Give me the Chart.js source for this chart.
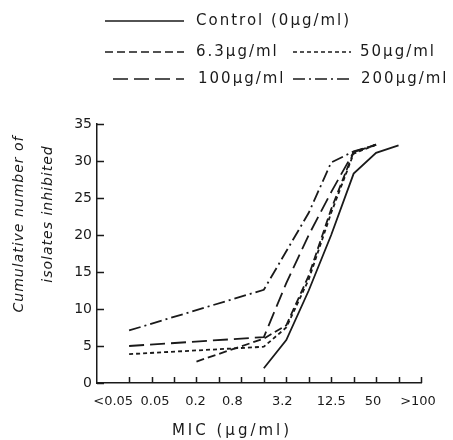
<!DOCTYPE html>
<html lang="en">
<head>
    <meta charset="UTF-8">
    <script src="https://cdn.jsdelivr.net/npm/chart.js@4.4.1/dist/chart.umd.min.js"></script>
    <title>MIC</title>
    <style>
        body { margin: 0; background: #fff; }
        #wrap { width: 453px; height: 440px; }
    </style>
</head>
<body>
    <div id="wrap"><canvas id="myChart"></canvas></div>
    <script>

        // MIC categories (doubling dilutions) and the labels shown under the axis
        var mic = ['<0.05', '0.05', '0.1', '0.2', '0.4', '0.8', '1.6', '3.2', '6.3', '12.5', '25', '50', '100', '>100'];
        var micLabels = ['<0.05', '0.05', '', '0.2', '', '0.8', '', '3.2', '', '12.5', '', '50', '', '>100'];
        var yTicks = [0, 5, 10, 15, 20, 25, 30, 35];

        // cumulative number of isolates inhibited, one value per MIC category
        var control = [null, null, null, null, null, null, 2, 5.8, 12.5, 20, 28.3, 31.1, 32.1, null];
        var conc63  = [null, null, null, 2.9, null, null, 6, 7.8, 14.5, 23.5, 31.2, 32.2, null, null];
        var conc50  = [3.9, null, null, null, null, null, 4.9, 7.5, 14, 23, 31, 32.2, null, null];
        var conc100 = [5, null, null, null, null, null, 6.2, 13.5, 20, 25.8, 31.2, 32.2, null, null];
        var conc200 = [7.1, null, null, null, null, null, 12.6, 17.8, 23, 29.8, 31.3, 32.2, null, null];

        function pts(arr) {
            var out = [];
            arr.forEach(function (v, i) { if (v !== null) out.push({ x: i, y: v }); });
            return out;
        }

        var ink = '#1a1a1a';
        var font = '"DejaVu Sans", sans-serif';

        var series = [
            { label: 'Control (0\u00b5g/ml)', data: control, dash: [] },
            { label: '6.3\u00b5g/ml', data: conc63, dash: [8, 4] },
            { label: '50\u00b5g/ml', data: conc50, dash: [4, 3] },
            { label: '100\u00b5g/ml', data: conc100, dash: [15, 6] },
            { label: '200\u00b5g/ml', data: conc200, dash: [12, 4, 2, 4] }
        ];

        // legend rows: [series index, line start, line end, text x, y]
        var legendPos = [
            [0, 105, 184, 196, 21],
            [1, 105, 184, 196, 52],
            [2, 293, 351, 360, 52],
            [3, 113, 184, 198, 79],
            [4, 293, 350, 361, 79]
        ];

        // hand-lettered labels sit a little off their ticks: [align, shift]
        var labelNudge = [['right', 4], ['left', -11], null, ['center', -1], null, ['center', -9], null,
                          ['center', -4], null, ['center', 0], null, ['center', -3], null, ['center', -3]];

        var extras = {
            id: 'extras',
            afterDraw: function (chart) {
                var ctx = chart.ctx;
                var xs = chart.scales.x, ys = chart.scales.y;
                var a = chart.chartArea;
                ctx.save();
                ctx.strokeStyle = ink;
                ctx.fillStyle = ink;
                ctx.lineWidth = 1.5;
                ctx.setLineDash([]);
                // inward tick marks
                ctx.beginPath();
                mic.forEach(function (m, i) {
                    var px = Math.round(xs.getPixelForValue(i)) + 0.5;
                    ctx.moveTo(px, a.bottom);
                    ctx.lineTo(px, a.bottom - 6);
                });
                yTicks.forEach(function (v) {
                    var py = Math.round(ys.getPixelForValue(v)) + 0.5;
                    ctx.moveTo(a.left, py);
                    ctx.lineTo(a.left + 7, py);
                });
                ctx.stroke();

                // x tick labels
                ctx.textBaseline = 'middle';
                ctx.font = '13px ' + font;
                micLabels.forEach(function (t, i) {
                    if (!t) return;
                    var n = labelNudge[i];
                    ctx.textAlign = n[0];
                    ctx.fillText(t, xs.getPixelForValue(i) + n[1], a.bottom + 19);
                });

                // legend
                ctx.textAlign = 'left';
                ctx.font = '15px ' + font;
                ctx.letterSpacing = '2px';
                legendPos.forEach(function (p) {
                    var s = series[p[0]];
                    ctx.setLineDash(s.dash);
                    ctx.lineWidth = 1.7;
                    ctx.beginPath();
                    ctx.moveTo(p[1], p[4]);
                    ctx.lineTo(p[2], p[4]);
                    ctx.stroke();
                    ctx.fillText(s.label, p[3], p[4]);
                });
                ctx.setLineDash([]);

                // axis titles
                ctx.textAlign = 'center';
                ctx.font = '15px ' + font;
                ctx.letterSpacing = '3px';
                ctx.fillText('MIC (\u00b5g/ml)', 232, 431);

                ctx.font = 'italic 14px ' + font;
                ctx.letterSpacing = '1px';
                ctx.translate(19, 224);
                ctx.rotate(-Math.PI / 2);
                ctx.fillText('Cumulative number of', 0, 0);
                ctx.fillText('isolates inhibited', 10, 29);
                ctx.restore();
            }
        };

        var ctx = document.getElementById('myChart').getContext('2d');
        var myChart = new Chart(ctx, {
            type: 'line',
            data: {
                datasets: series.map(function (s) {
                    return {
                        label: s.label,
                        data: pts(s.data),
                        borderColor: ink,
                        borderWidth: 1.8,
                        borderDash: s.dash,
                        pointRadius: 0,
                        tension: 0,
                        fill: false
                    };
                })
            },
            options: {
                responsive: true,
                maintainAspectRatio: false,
                devicePixelRatio: 1,
                animation: { duration: 0 },
                layout: { padding: { top: 124, right: 32, left: 0, bottom: 0 } },
                plugins: { legend: { display: false }, tooltip: { enabled: false } },
                scales: {
                    x: {
                        type: 'linear',
                        min: -1.43,
                        max: 13,
                        afterBuildTicks: function (scale) {
                            scale.ticks = mic.map(function (m, i) { return { value: i }; });
                        },
                        afterFit: function (scale) { scale.height = 57; },
                        grid: { display: false, drawTicks: false },
                        border: { display: true, color: ink, width: 1.5 },
                        ticks: { display: false }
                    },
                    y: {
                        min: 0,
                        max: 35,
                        afterBuildTicks: function (scale) {
                            scale.ticks = yTicks.map(function (v) { return { value: v }; });
                        },
                        afterFit: function (scale) { scale.width = 97; },
                        grid: { display: false, drawTicks: false },
                        border: { display: true, color: ink, width: 1.5 },
                        ticks: {
                            padding: 5,
                            color: ink,
                            font: { family: font, size: 14 }
                        }
                    }
                }
            },
            plugins: [extras]
        });
    </script>

</body>
</html>
